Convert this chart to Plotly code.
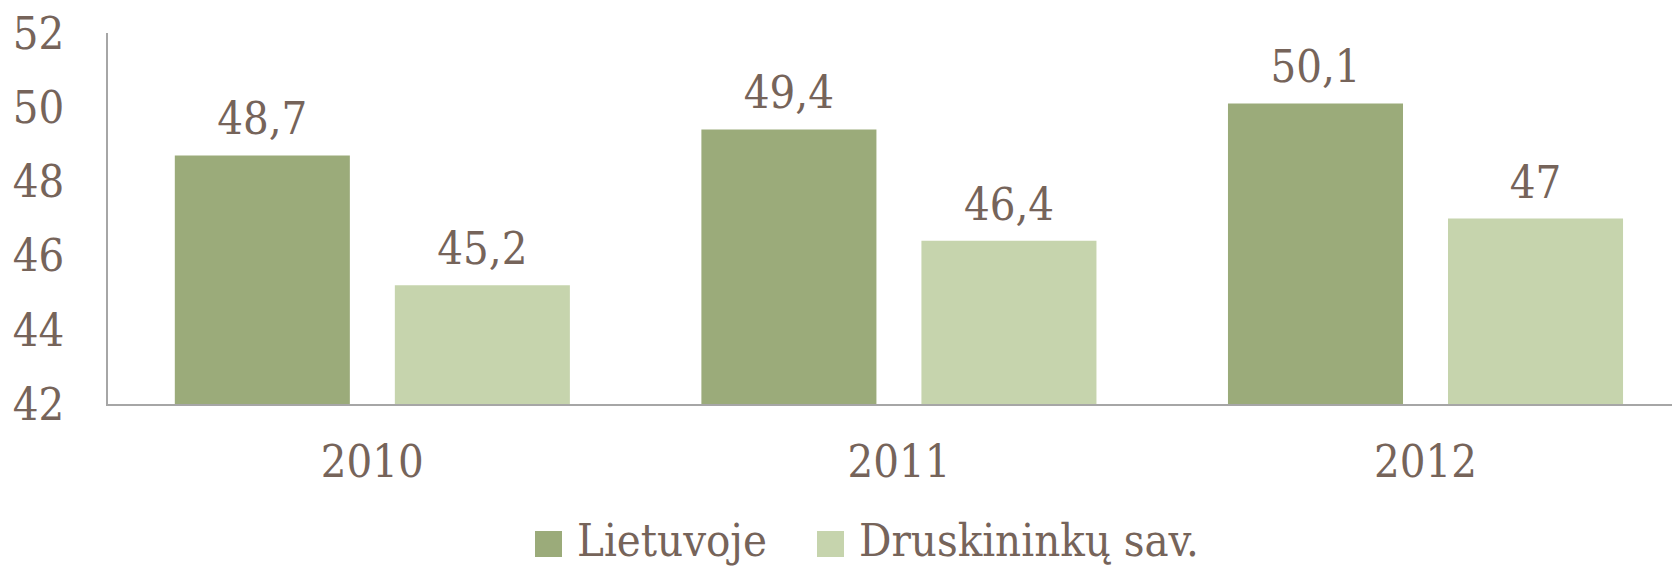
import plotly.graph_objects as go

years = ["2010", "2011", "2012"]
lietuvoje = [48.7, 49.4, 50.1]
druskininku = [45.2, 46.4, 47.0]
series_names = ["Lietuvoje", "Druskininkų sav."]
y_ticks = [42, 44, 46, 48, 50, 52]

TEXT = "#76645A"
C1 = "#9BAB7A"
C2 = "#C6D4AD"
FONT = "DejaVu Serif Condensed, Liberation Serif, serif"
FS = 45

def fmt(v):
    return ("%g" % v).replace(".", ",")

# the page adds an 8px body margin, so the figure is 8px smaller
W, H = 1672, 560
L, R, T, B = 100, 7, 25, 164
pw, ph = W - L - R, H - T - B

fig = go.Figure()
for i, (name, vals, col) in enumerate([(series_names[0], lietuvoje, C1), (series_names[1], druskininku, C2)]):
    fig.add_trace(go.Bar(
        x=years, y=vals, name=name, marker=dict(color=col, line=dict(width=0)),
        offsetgroup=str(i), showlegend=False, hoverinfo="skip",
    ))
for i, vals in enumerate([lietuvoje, druskininku]):
    fig.add_trace(go.Scatter(
        x=years, y=vals, mode="markers+text", offsetgroup=str(i),
        marker=dict(size=14, color="rgba(0,0,0,0)"),
        text=[fmt(v) for v in vals], textposition="top center",
        textfont=dict(family=FONT, size=FS, color=TEXT), cliponaxis=False,
        showlegend=False,
    ))

fig.update_layout(
    width=W, height=H,
    margin=dict(l=L, r=R, t=T, b=B, autoexpand=False),
    paper_bgcolor="white", plot_bgcolor="white",
    barmode="group", scattermode="group", bargap=0.1643, bargroupgap=0.2045,
    font=dict(family=FONT, size=FS, color=TEXT),
    xaxis=dict(range=[-0.502, 2.47], showline=True, linecolor="#A6A6A6", linewidth=1.5, ticks="",
               automargin=False,
               tickfont=dict(family=FONT, size=FS, color=TEXT), ticklabelstandoff=17),
    yaxis=dict(range=[42, 52], tickvals=y_ticks, showgrid=False, zeroline=False,
               showline=True, linecolor="#A6A6A6", linewidth=1.5, ticks="",
               ticklabeloverflow="allow", automargin=False,
               tickfont=dict(family=FONT, size=FS, color=TEXT), ticklabelstandoff=33),
)

def px_x(p):
    return (p - 8 - L) / pw

def px_y(p):
    return (H - B - (p - 8)) / ph

legend_items = [(series_names[0], C1, 535, 575), (series_names[1], C2, 817, 857)]
for name, col, sx, tx in legend_items:
    fig.add_shape(type="rect", xref="paper", yref="paper",
                  x0=px_x(sx), x1=px_x(sx + 27), y0=px_y(557), y1=px_y(531),
                  fillcolor=col, line=dict(width=0))
    fig.add_annotation(text=name, xref="paper", yref="paper", x=px_x(tx), y=px_y(540),
                       xanchor="left", yanchor="middle", showarrow=False,
                       font=dict(family=FONT, size=FS, color=TEXT))

fig.write_html("out.html")
